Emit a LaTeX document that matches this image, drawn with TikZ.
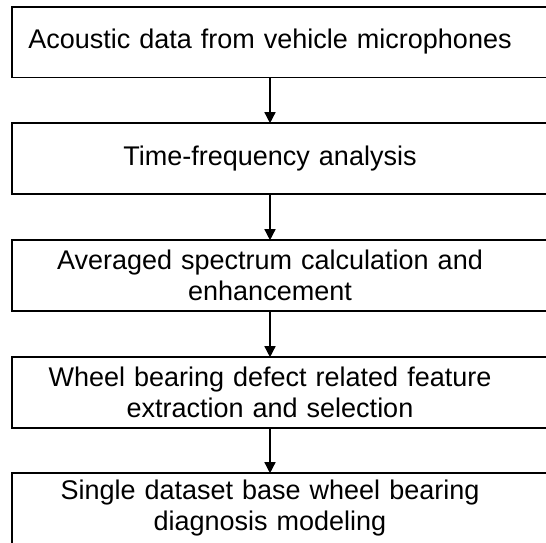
\documentclass[tikz,border=0pt]{standalone}
\usepackage{fontspec}
\setmainfont{Liberation Sans}
\usetikzlibrary{arrows.meta}
\begin{document}
\begin{tikzpicture}[
    x=1pt, y=-1pt, line width=1.6pt,
    stepbox/.style={minimum height=69pt, text width=500pt, align=center,
      inner sep=0pt, font=\fontsize{27}{31}\selectfont},
    flow/.style={line width=1.4pt, -{Triangle[length=11pt,width=11pt]}}
  ]
    \useasboundingbox (0,0) rectangle (546,542);
    \clip (0,0) rectangle (546,542);

    % steps
    \node[stepbox] (acoustic) at (270,42)    {Acoustic data from vehicle microphones};
    \node[stepbox] (tfa)      at (270,158.5) {Time-frequency analysis};
    \node[stepbox] (spectrum) at (270,275.5) {Averaged spectrum calculation and\\ enhancement};
    \node[stepbox] (feature)  at (270,392.5) {Wheel bearing defect related feature\\ extraction and selection};
    \node[stepbox] (model)    at (270,508.5) {Single dataset base wheel bearing\\ diagnosis modeling};

    % frames
    \foreach \n in {acoustic,tfa,spectrum,feature,model}
        \draw ([xshift=-7pt]\n.north west) rectangle ([xshift=36pt]\n.south east);

    % arrows
    \draw[flow] (acoustic) -- (tfa);
    \draw[flow] (tfa)      -- (spectrum);
    \draw[flow] (spectrum) -- (feature);
    \draw[flow] (feature)  -- (model);

\end{tikzpicture}
\end{document}
